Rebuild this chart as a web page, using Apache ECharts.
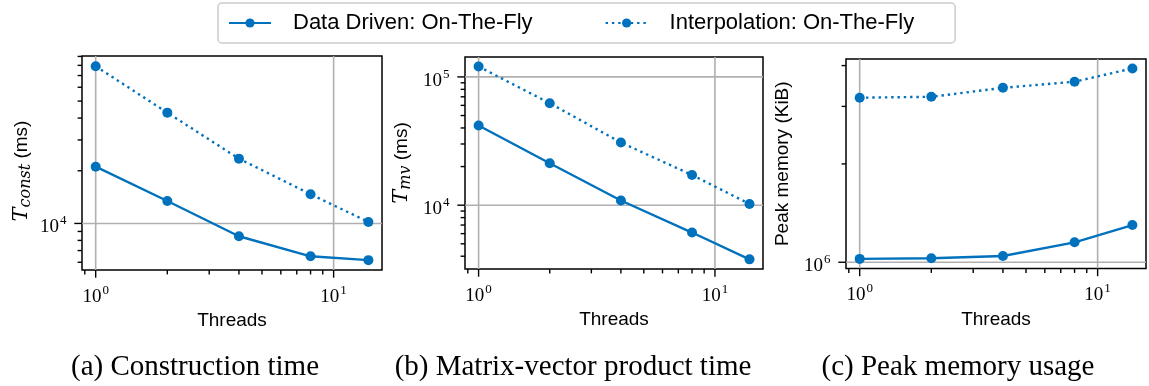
<!DOCTYPE html>
<html>
<head>
<meta charset="utf-8">
<title>Threads scaling</title>
<script src="https://cdn.jsdelivr.net/npm/echarts@6/dist/echarts.min.js"></script>
<style>
  html, body { margin: 0; padding: 0; background: #ffffff; }
  #chart { width: 1149px; height: 386px; }
</style>
</head>
<body>
<div id="chart"></div>
<script>
// ---- data -------------------------------------------------------------
const threads = [1, 2, 4, 8, 14];

// Construction time (ms)
const constDataDriven    = [21100, 13430, 8450, 6490, 6170];
const constInterpolation = [79100, 42950, 23450, 14690, 10200];

// Matrix-vector product time (ms)
const mvDataDriven    = [41800, 21240, 10880, 6120, 3780];
const mvInterpolation = [120500, 62400, 30800, 17200, 10230];

// Peak memory (KiB)
const memDataDriven    = [1024000, 1029000, 1045000, 1151000, 1300000];
const memInterpolation = [3190000, 3210000, 3420000, 3570000, 3920000];

// axis ranges
const xRange      = [0.876, 15.97];
const yRangeConst = [5420, 90500];
const yRangeMv    = [3180, 143000];
const yRangeMem   = [957000, 4190000];

// tick positions
const xMajorTicks = [1, 10];
const xMinorTicks = [0.9, 2, 3, 4, 5, 6, 7, 8, 9];
const yMajorConst = [1e4];
const yMinorConst = [6000, 7000, 8000, 9000, 20000, 30000, 40000, 50000, 60000, 70000, 80000, 90000];
const yMajorMv    = [1e4, 1e5];
const yMinorMv    = [4000, 5000, 6000, 7000, 8000, 9000, 20000, 30000, 40000, 50000, 60000, 70000, 80000, 90000];
const yMajorMem   = [1e6];
const yMinorMem   = [2e6, 3e6, 4e6];

// labels
const SERIES_DD = 'Data Driven: On-The-Fly';
const SERIES_IP = 'Interpolation: On-The-Fly';
const xAxisTitle = 'Threads';
const captions = ['(a) Construction time', '(b) Matrix-vector product time', '(c) Peak memory usage'];

// ---- styling ------------------------------------------------------------
const BLUE = '#0072BD';
const GRID_GRAY = '#b0b0b0';
const SANS = '"Liberation Sans", Arial, sans-serif';
const SERIF = '"Liberation Serif", "Times New Roman", serif';
const MATH = '"DejaVu Serif", serif';

const panels = [
  {
    grid: { left: 82, top: 56, width: 300, height: 214 },
    yRange: yRangeConst, yMajor: yMajorConst, yMinor: yMinorConst,
    dd: constDataDriven, ip: constInterpolation,
    yName: '{t|T}{sub|const}{n| (ms)}', nameGap: 48, namePad: [0, 16, 0, 0],
    caption: captions[0], captionX: 195
  },
  {
    grid: { left: 465, top: 57, width: 298, height: 212 },
    yRange: yRangeMv, yMajor: yMajorMv, yMinor: yMinorMv,
    dd: mvDataDriven, ip: mvInterpolation,
    yName: '{t|T}{sub|mv}{n| (ms)}', nameGap: 51, namePad: [0, 0, 0, 0],
    caption: captions[1], captionX: 573
  },
  {
    grid: { left: 846, top: 59, width: 300, height: 209.5 },
    yRange: yRangeMem, yMajor: yMajorMem, yMinor: yMinorMem,
    dd: memDataDriven, ip: memInterpolation,
    yName: '{n|Peak memory (KiB)}', nameGap: 54, namePad: [0, 0, 0, 0],
    caption: captions[2], captionX: 958
  }
];

// "10" with a raised exponent, only on whole decades
function powerLabel(v) {
  const e = Math.log10(v);
  const r = Math.round(e);
  if (Math.abs(e - r) > 1e-6) return '';
  return '{b|10}{s|' + r + '}';
}

const tickRich = {
  b: { fontFamily: SERIF, fontSize: 19, color: '#000', padding: [8, 0, 0, 0] },
  s: { fontFamily: SERIF, fontSize: 13, color: '#000', padding: [0, 0, 5, 1] }
};

const nameRich = {
  t:   { fontFamily: MATH, fontStyle: 'italic', fontSize: 21, color: '#000' },
  sub: { fontFamily: MATH, fontStyle: 'italic', fontSize: 16, color: '#000', padding: [9, 0, 0, 0] },
  n:   { fontFamily: SANS, fontSize: 19, color: '#000' }
};

// tick marks (outward) and grid lines at the decades
function renderTick(params, api) {
  const cs = params.coordSys;
  const onX = api.value(2) === 0;
  const major = api.value(3) === 1;
  const len = major ? 7.7 : 4.4;
  const p = api.coord([api.value(0), api.value(1)]);
  const children = [];
  if (onX) {
    const x = p[0];
    const bottom = cs.y + cs.height;
    if (major) {
      children.push({ type: 'line', shape: { x1: x, y1: cs.y, x2: x, y2: bottom },
        style: { stroke: GRID_GRAY, lineWidth: 1.6 } });
    }
    children.push({ type: 'line', shape: { x1: x, y1: bottom, x2: x, y2: bottom + len },
      style: { stroke: '#000', lineWidth: 1.4 } });
  } else {
    const y = p[1];
    const left = cs.x;
    if (major) {
      children.push({ type: 'line', shape: { x1: left, y1: y, x2: left + cs.width, y2: y },
        style: { stroke: GRID_GRAY, lineWidth: 1.6 } });
    }
    children.push({ type: 'line', shape: { x1: left - len, y1: y, x2: left, y2: y },
      style: { stroke: '#000', lineWidth: 1.4 } });
  }
  return { type: 'group', children: children };
}

const grids = [], xAxes = [], yAxes = [], series = [], graphics = [];

panels.forEach(function (p, i) {
  grids.push(Object.assign({ show: true, borderColor: '#000', borderWidth: 1.5,
    backgroundColor: 'transparent', containLabel: false }, p.grid));

  xAxes.push({
    type: 'log', logBase: 10, gridIndex: i, min: xRange[0], max: xRange[1],
    axisLine: { show: false }, axisTick: { show: false },
    splitLine: { show: false }, minorTick: { show: false }, minorSplitLine: { show: false },
    axisLabel: { formatter: powerLabel, margin: 9.5, rich: tickRich,
      showMinLabel: false, showMaxLabel: false },
    name: xAxisTitle, nameLocation: 'middle', nameGap: 41,
    nameTextStyle: { fontFamily: SANS, fontSize: 19, color: '#000' }
  });

  yAxes.push({
    type: 'log', logBase: 10, gridIndex: i, min: p.yRange[0], max: p.yRange[1],
    axisLine: { show: false }, axisTick: { show: false },
    splitLine: { show: false }, minorTick: { show: false }, minorSplitLine: { show: false },
    axisLabel: { formatter: powerLabel, margin: 15.5, rich: tickRich,
      showMinLabel: false, showMaxLabel: false },
    name: p.yName, nameLocation: 'middle', nameRotate: 90, nameGap: p.nameGap,
    nameTextStyle: { fontFamily: SANS, fontSize: 19, color: '#000', rich: nameRich,
      padding: p.namePad }
  });

  const tickData = [];
  xMajorTicks.forEach(function (v) { tickData.push([v, p.yRange[0], 0, 1]); });
  xMinorTicks.forEach(function (v) { tickData.push([v, p.yRange[0], 0, 0]); });
  p.yMajor.forEach(function (v) { tickData.push([xRange[0], v, 1, 1]); });
  p.yMinor.forEach(function (v) { tickData.push([xRange[0], v, 1, 0]); });

  series.push({
    type: 'custom', name: 'ticks-' + i, xAxisIndex: i, yAxisIndex: i,
    renderItem: renderTick, data: tickData, z: 1, silent: true, clip: false
  });

  series.push({
    type: 'line', name: SERIES_DD, xAxisIndex: i, yAxisIndex: i, z: 3,
    data: threads.map(function (t, k) { return [t, p.dd[k]]; }),
    symbol: 'circle', symbolSize: 10, showAllSymbol: true,
    itemStyle: { color: BLUE }, lineStyle: { color: BLUE, width: 2.4, type: 'solid' }
  });
  series.push({
    type: 'line', name: SERIES_IP, xAxisIndex: i, yAxisIndex: i, z: 3,
    data: threads.map(function (t, k) { return [t, p.ip[k]]; }),
    symbol: 'circle', symbolSize: 10, showAllSymbol: true,
    itemStyle: { color: BLUE }, lineStyle: { color: BLUE, width: 2.4, type: [2.4, 3.9] }
  });

  graphics.push({
    type: 'text', x: p.captionX, y: 367,
    style: { text: p.caption, font: '29px ' + SERIF, fill: '#000',
      align: 'center', verticalAlign: 'middle' }
  });
});

const chart = echarts.init(document.getElementById('chart'), null, { renderer: 'canvas' });
chart.setOption({
  animation: false,
  backgroundColor: '#ffffff',
  legend: {
    data: [SERIES_DD, SERIES_IP], left: 218, top: 3,
    padding: [9, 41, 9, 10], itemWidth: 42, itemHeight: 11.5, itemGap: 72,
    borderColor: '#cccccc', borderWidth: 1.5, borderRadius: 4,
    selectedMode: false,
    textStyle: { fontFamily: SANS, fontSize: 22, color: '#000', padding: [0, 0, 0, 17] }
  },
  grid: grids,
  xAxis: xAxes,
  yAxis: yAxes,
  series: series,
  graphic: graphics
});
</script>
</body>
</html>
